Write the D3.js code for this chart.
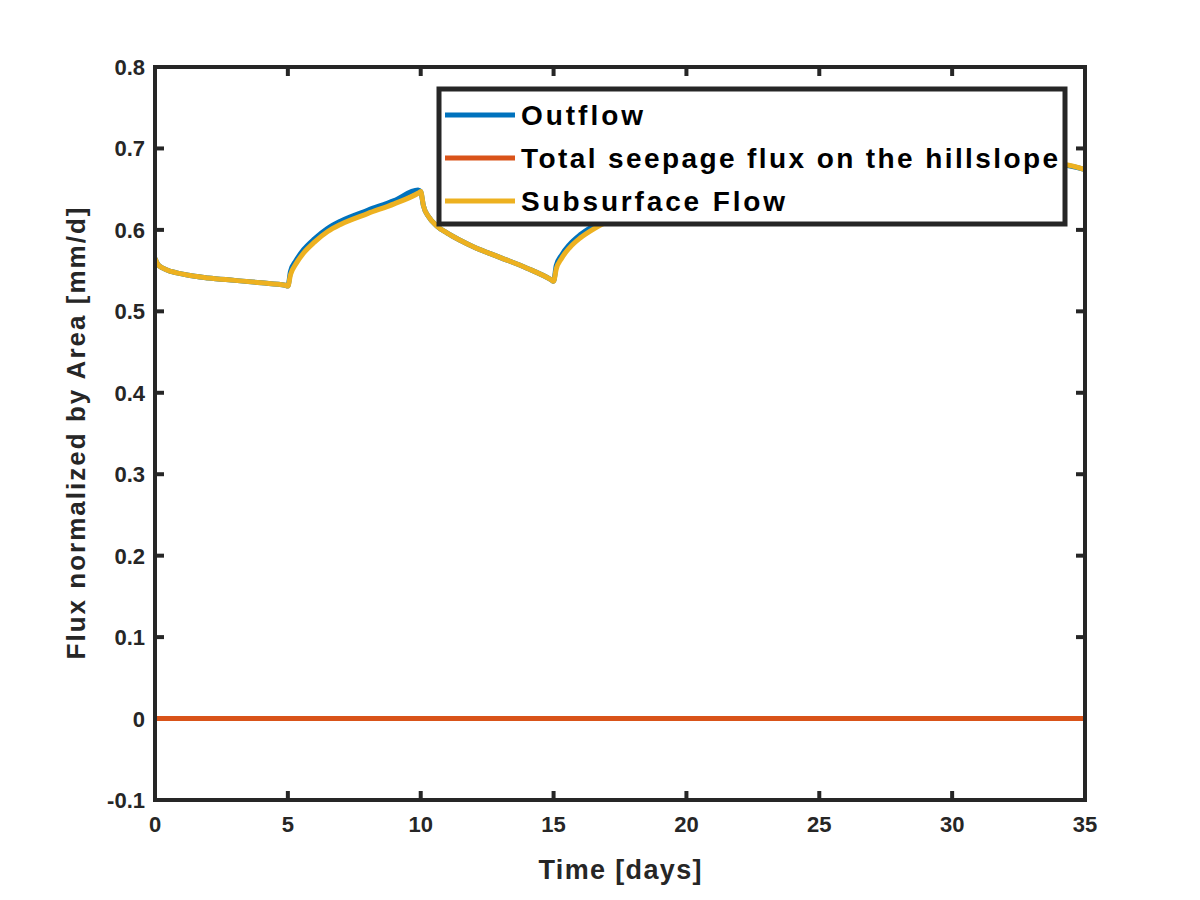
<!DOCTYPE html><html><head><meta charset="utf-8"><script src="https://cdn.jsdelivr.net/npm/d3@7"></script>
<style>body{margin:0;background:#fff}text{font-family:"Liberation Sans",Arial,sans-serif;font-weight:bold;fill:#262626}</style></head><body><svg id="c" width="1200" height="900"></svg><script>
const xTicks=[0,5,10,15,20,25,30,35];
const yTicks=[-0.1,0,0.1,0.2,0.3,0.4,0.5,0.6,0.7,0.8];
const seriesNames=["Outflow","Total seepage flux on the hillslope","Subsurface Flow"];
const colors=["#0072BD","#D95319","#EDB120"];
const tDays=[0,0.1,0.3,0.6,1,1.5,2,3,4,4.9,5,5.1,5.3,5.6,6,6.5,7,8,9,9.9,10,10.1,10.3,10.6,11,11.5,12,13,14,14.9,15,15.1,15.3,15.6,16,16.5,17,18,20,22,25,28,31,33,34.2,35];
const subsurface=[0.565,0.558,0.553,0.549,0.546,0.543,0.541,0.538,0.535,0.532,0.531,0.545,0.558,0.572,0.585,0.598,0.607,0.620,0.632,0.645,0.647,0.630,0.616,0.605,0.596,0.587,0.579,0.566,0.553,0.539,0.537,0.552,0.565,0.578,0.590,0.601,0.610,0.624,0.640,0.651,0.662,0.670,0.676,0.679,0.680,0.674];
const outflow=subsurface.map((v,i)=>v+((tDays[i]>5&&tDays[i]<10)||(tDays[i]>15&&tDays[i]<34)?0.004:0));
const seepage=tDays.map(()=>0);
const svg=d3.select("#c");
const L=155,R=1085,T=67,B=800;
const x=d3.scaleLinear().domain([0,35]).range([L,R]);
const y=d3.scaleLinear().domain([-0.1,0.8]).range([B,T]);
const g=svg.append("g");
const tl=9;
xTicks.forEach(t=>{g.append("line").attr("x1",x(t)).attr("x2",x(t)).attr("y1",B).attr("y2",B-tl).attr("stroke","#262626").attr("stroke-width",4);
g.append("line").attr("x1",x(t)).attr("x2",x(t)).attr("y1",T).attr("y2",T+tl).attr("stroke","#262626").attr("stroke-width",4);
g.append("text").attr("x",x(t)).attr("y",B+32).attr("text-anchor","middle").attr("font-size",22).text(t);});
yTicks.forEach(t=>{g.append("line").attr("x1",L).attr("x2",L+tl).attr("y1",y(t)).attr("y2",y(t)).attr("stroke","#262626").attr("stroke-width",4);
g.append("line").attr("x1",R).attr("x2",R-tl).attr("y1",y(t)).attr("y2",y(t)).attr("stroke","#262626").attr("stroke-width",4);
g.append("text").attr("x",L-10).attr("y",y(t)+8).attr("text-anchor","end").attr("font-size",22).text(t);});
const line=d3.line().x((d,i)=>x(tDays[i])).y(d=>y(d)).curve(d3.curveMonotoneX);
svg.append("clipPath").attr("id","cl").append("rect").attr("x",L).attr("y",T).attr("width",R-L).attr("height",B-T);
const pg=svg.append("g").attr("clip-path","url(#cl)");
[outflow,seepage,subsurface].forEach((s,k)=>pg.append("path").attr("d",line(s)).attr("fill","none").attr("stroke",colors[k]).attr("stroke-width",5));
svg.append("rect").attr("x",L).attr("y",T).attr("width",R-L).attr("height",B-T).attr("fill","none").attr("stroke","#262626").attr("stroke-width",4);
svg.append("text").attr("x",(L+R)/2).attr("y",879).attr("text-anchor","middle").attr("font-size",27).attr("textLength",163).text("Time [days]");
svg.append("text").attr("transform",`translate(85,${(T+B)/2}) rotate(-90)`).attr("text-anchor","middle").attr("font-size",26).attr("textLength",452).text("Flux normalized by Area [mm/d]");
const lg=svg.append("g");
lg.append("rect").attr("x",439).attr("y",89).attr("width",626).attr("height",135).attr("fill","#fff").attr("stroke","#262626").attr("stroke-width",5);
const lens=[122,537,264];
seriesNames.forEach((n,k)=>{const yy=115+k*43;
lg.append("line").attr("x1",445).attr("x2",515).attr("y1",yy).attr("y2",yy).attr("stroke",colors[k]).attr("stroke-width",5);
lg.append("text").attr("x",521).attr("y",yy+10).attr("font-size",28).attr("textLength",lens[k]).style("fill","#000").text(n);});
</script></body></html>
